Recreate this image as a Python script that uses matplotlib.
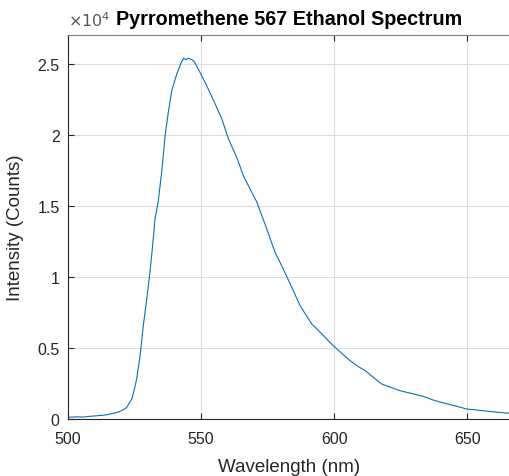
import numpy as np
import matplotlib
matplotlib.use("Agg")
import matplotlib.pyplot as plt

# values
wavelength = [500, 503, 506, 508.3, 511, 514, 515.8, 517.5, 519, 520.5, 522, 523.3,
              524, 525.2, 525.8, 527.1, 528.3, 529.6, 530.8, 531.8, 532.7, 533.9,
              535.2, 536.5, 537.7, 539, 540.9, 542.7, 543.5, 544.3, 545.2, 546.5,
              547.5, 549.6, 552.1, 555.3, 557.8, 560.3, 563.4, 565.9, 568.4, 570.9,
              574.7, 577.8, 580.9, 584.1, 587.2, 591.6, 596, 599.7, 603, 606, 609,
              611.7, 615, 617.9, 621, 624.8, 629, 633.6, 637, 641.1, 645, 649.9,
              653, 656.1, 660, 664.9, 667]
counts = [120, 150, 140, 190, 230, 280, 350, 420, 500, 620, 800, 1200,
          1410, 2300, 2820, 4460, 6570, 8450, 10330, 12200, 14080, 15300,
          17370, 19950, 21600, 23120, 24300, 25160, 25400, 25300, 25400, 25300,
          25150, 24410, 23470, 22180, 21130, 19720, 18430, 17130, 16200, 15300,
          13380, 11740, 10560, 9270, 7980, 6690, 5870, 5160, 4600, 4110, 3700,
          3400, 2900, 2460, 2250, 1990, 1800, 1590, 1350, 1130, 950, 700,
          650, 580, 500, 420, 400]
xticks = [500, 550, 600, 650]
yticks = [0, 0.5, 1, 1.5, 2, 2.5]

plt.rcParams["font.family"] = ["Liberation Sans", "DejaVu Sans"]
txt = "#262626"

fig = plt.figure(figsize=(5.09, 4.77), dpi=100)
ax = fig.add_axes([0.1336, 0.1195, 0.8704, 0.804])

ax.plot(wavelength, np.array(counts) / 1e4, color="#0072BD", linewidth=0.8)

ax.set_xlim(500, 666.5)
ax.set_ylim(0, 2.7)
ax.set_xticks(xticks)
ax.set_yticks(yticks)
ax.set_yticklabels(["0", "0.5", "1", "1.5", "2", "2.5"])
ax.grid(True, color="#dcdcdc", linewidth=0.8)
ax.set_axisbelow(True)
ax.tick_params(direction="in", length=4, width=0.8, colors=txt, labelsize=11.5,
               top=True)
ax.tick_params(axis="x", pad=9)
ax.tick_params(axis="y", pad=6)
for s in ["left", "bottom", "top"]:
    ax.spines[s].set_color(txt)
    ax.spines[s].set_linewidth(0.8)
ax.spines["top"].set_color("#7a7a7a")
ax.spines["right"].set_visible(False)

ax.set_xlabel("Wavelength (nm)", fontsize=13.5, color=txt, labelpad=8)
ax.set_ylabel("Intensity (Counts)", fontsize=13.5, color=txt, labelpad=10)
ax.set_title("Pyrromethene 567 Ethanol Spectrum", fontsize=14.2,
             fontweight="bold", color="black", pad=8)
fig.text(0.1336, 0.938, r"$\times10^{4}$", fontsize=11.5, color="#555555",
         ha="left", va="bottom")

fig.savefig("out.png", dpi=100)
